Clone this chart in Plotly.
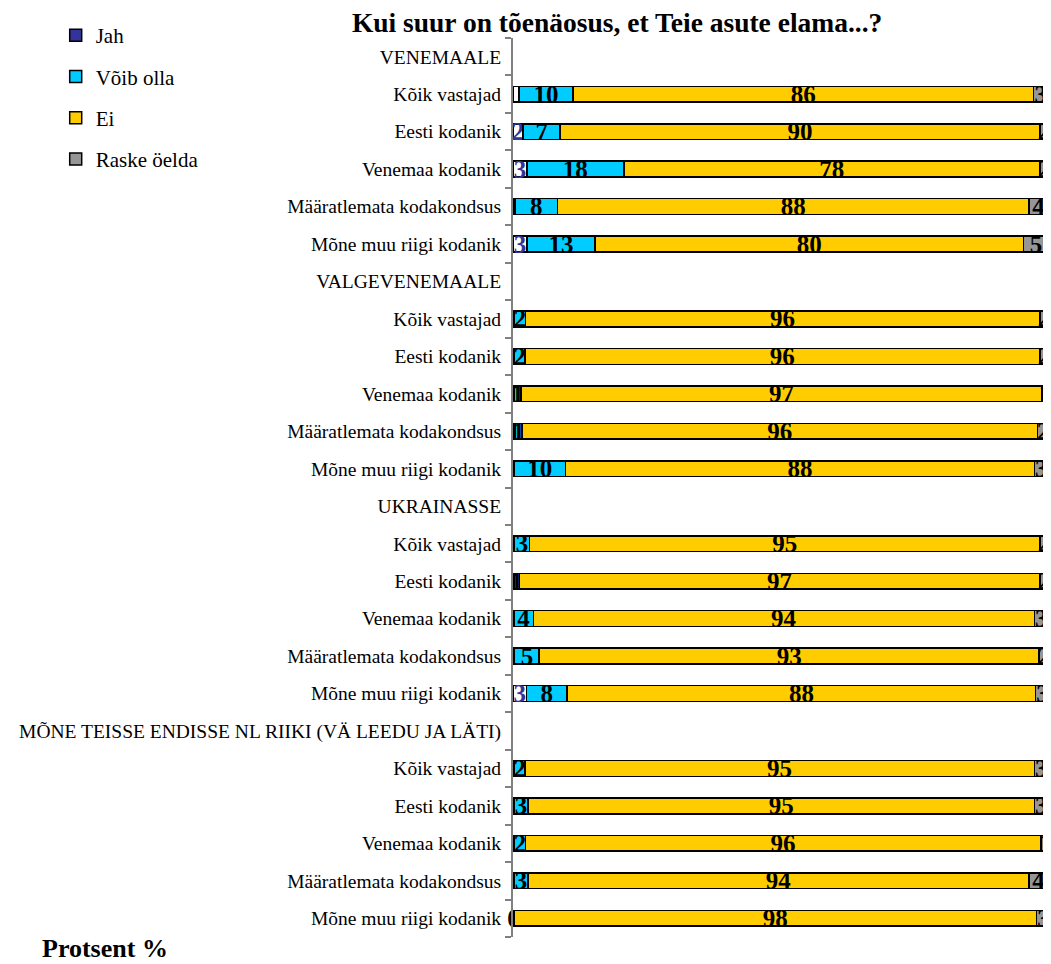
import plotly.graph_objects as go

# Kui suur on tõenäosus, et Teie asute elama...?  (protsent, rows sum to ~100)
groups = ["VENEMAALE", "VALGEVENEMAALE", "UKRAINASSE",
          "MÕNE TEISSE ENDISSE NL RIIKI (VÄ LEEDU JA LÄTI)"]
subgroups = ["Kõik vastajad", "Eesti kodanik", "Venemaa kodanik",
             "Määratlemata kodakondsus", "Mõne muu riigi kodanik"]

# 5 values per group, same order as subgroups (estimated from bar lengths,
# the printed labels are these rounded)
jah = [1.1, 1.9, 2.6, 0.4, 2.6,
       0.3, 0.3, 0.3, 0.4, 0.2,
       0.3, 0.2, 0.2, 0.3, 2.55,
       0.3, 0.2, 0.3, 0.2, 0.0]
voib_olla = [10.1, 6.9, 18.1, 7.9, 12.7,
             2.0, 1.9, 1.2, 1.3, 9.6,
             2.8, 1.0, 3.6, 4.6, 7.55,
             1.9, 2.6, 2.0, 2.6, 0.2]
ei = [86.0, 89.6, 77.7, 88.1, 80.1,
      96.1, 96.2, 97.3, 96.3, 87.6,
      95.3, 97.2, 93.6, 93.4, 87.55,
      95.2, 94.6, 96.3, 93.6, 97.6]
raske = [2.8, 1.6, 1.6, 3.6, 4.6,
         1.6, 1.6, 1.2, 2.0, 2.6,
         1.6, 1.6, 2.6, 1.7, 2.55,
         2.6, 2.6, 1.4, 3.6, 2.55]

series_names = ["Jah", "Võib olla", "Ei", "Raske öelda"]
colors = ["#333399", "#00CCFF", "#FFCC00", "#969696"]

# group header rows get no bar
labels, rows = [], []
for gi, g in enumerate(groups):
    labels.append(g)
    rows.append(None)
    for si, s in enumerate(subgroups):
        labels.append(s)
        rows.append(gi * len(subgroups) + si)
pos = list(range(len(labels)))


def column(vals):
    return [None if r is None else vals[r] for r in rows]


FONT = "Liberation Serif"
fig = go.Figure()

for name, vals, color in zip(series_names, [jah, voib_olla, ei, raske], colors):
    x = column(vals)
    if name == "Jah":
        # Jah labels sit on white in the original; legend keeps the blue
        txt = ["" if v is None or round(v) < 2 else f"{v:.0f}" for v in x]
        fill = [color if v is None else "white" for v in x]
        tcol = "#333399"
    else:
        txt = ["" if v is None else f"{v:.0f}" for v in x]
        fill = color
        tcol = "black"
    fig.add_trace(go.Bar(
        y=pos, x=x, name=name, orientation="h",
        marker=dict(color=fill, line=dict(color="black", width=1.5)),
        text=txt, textposition="inside", insidetextanchor="middle",
        textangle=0, constraintext="none", cliponaxis=False,
        textfont=dict(family=FONT, size=25, color=tcol, weight="bold"),
        legendgroup=name, width=0.42, hoverinfo="skip",
    ))

# page body adds an 8px margin, so the figure is 8px smaller each way
fig.update_layout(
    width=1043, height=956,
    barmode="stack",
    plot_bgcolor="white", paper_bgcolor="white",
    margin=dict(l=505, r=0, t=30, b=27),
    font=dict(family=FONT, color="black"),
    uniformtext=dict(mode="show", minsize=25),
    title=dict(text="<b>Kui suur on tõenäosus, et Teie asute elama...?</b>",
               x=0.584, xanchor="center", y=0.985, yanchor="middle",
               font=dict(family=FONT, size=27.5, color="black")),
    legend=dict(x=-0.85, xanchor="left", y=1.0256, yanchor="top",
                traceorder="grouped", tracegroupgap=11,
                font=dict(family=FONT, size=21, color="black"),
                itemwidth=30, bgcolor="rgba(0,0,0,0)"),
    showlegend=True,
)

fig.update_xaxes(range=[0, 100.5], showticklabels=False, showgrid=False,
                 zeroline=False, showline=False, ticks="")
fig.update_yaxes(
    tickmode="array", tickvals=pos, ticktext=labels,
    range=[len(labels) - 0.5, -0.5],
    showline=True, linecolor="#808080", linewidth=2,
    ticks="outside", ticklen=6, tickcolor="rgba(0,0,0,0)",
    tickfont=dict(family=FONT, size=19.5, color="black"),
    showgrid=False, zeroline=False,
    minor=dict(tickmode="array", tickvals=[p - 0.5 for p in pos] + [len(pos) - 0.5],
               ticks="outside", ticklen=6, tickcolor="#808080", tickwidth=2,
               showgrid=False),
)

fig.add_annotation(text="<b>Protsent %</b>", xref="paper", yref="paper",
                   x=-0.879, xanchor="left", y=-0.013, yanchor="middle",
                   showarrow=False, font=dict(family=FONT, size=26, color="black"))

fig.write_html("out.html")
